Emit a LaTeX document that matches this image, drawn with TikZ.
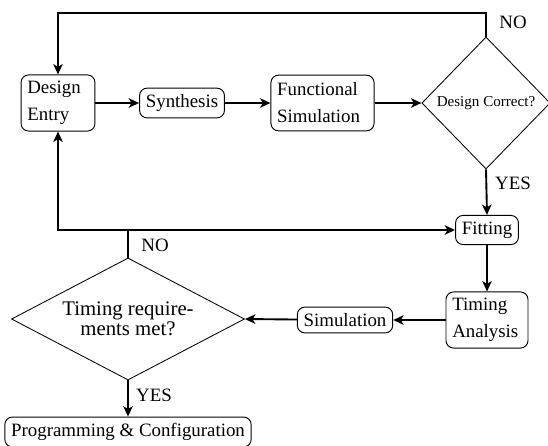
\documentclass[tikz,border=0pt]{standalone}
\usepackage{fontspec}
\setmainfont{Liberation Serif}
\usetikzlibrary{shapes.geometric,arrows.meta}
\begin{document}
\begin{tikzpicture}[x=0.53pt,y=-0.53pt,
  box/.style={draw,rounded corners=4pt,line width=0.5pt,font=\fontsize{10}{14.3}\selectfont},
  wbox/.style={box,align=left,text width=#1,minimum height=29.5pt},
  dia/.style={draw,diamond,inner sep=0pt,line width=0.45pt},
  arr/.style={line width=1pt,-{Stealth[length=5.5pt,width=5pt,inset=1.5pt]}},
  ln/.style={line width=1pt},
  lab/.style={font=\fontsize{10}{12}\selectfont}]
\useasboundingbox (0,0) rectangle (548,445);
\node[wbox=32.5pt] (entry) at (58,103) {Design\\Entry};
\node[box] (synth) at (182,103) {Synthesis};
\node[wbox=48pt] (func) at (322.5,103) {Functional\\Simulation};
\node[dia,minimum width=68pt,minimum height=70pt,font=\fontsize{8}{9}\selectfont] (dc) at (486,103) {Design Correct?};
\node[box] (fit) at (487,230) {Fitting};
\node[wbox=36.8pt] (ta) at (487,320) {Timing\\Analysis};
\node[box] (sim) at (345,320) {Simulation};
\node[dia,shape aspect=1.9,minimum width=123.5pt,minimum height=64.7pt,align=center,font=\fontsize{11}{10.6}\selectfont] (tr) at (128,319) {Timing require-\\ments met?};
\node[box] (prog) at (128,432) {Programming \& Configuration};
\coordinate (topr) at (486,13);
\coordinate (jn) at (128,230);
\draw[arr] (entry) -- (synth);
\draw[arr] (synth) -- (func);
\draw[arr] (func) -- (dc);
\draw[arr] (dc.north) -- (topr) -| (entry.north);
\draw[arr] (dc.south) -- (fit.north);
\draw[arr] (fit) -- (ta);
\draw[arr] (ta) -- (sim);
\draw[arr] (sim) -- (tr.east);
\draw[arr] (tr.south) -- (prog.north);
\draw[arr] (tr.north) |- (fit.west);
\draw[arr] (tr.north) -- (jn) -| (entry.south);
\node[lab] (no1) at (513,22) {NO};
\node[lab] (yes1) at (513,183) {YES};
\node[lab] (no2) at (155,245) {NO};
\node[lab] (yes2) at (154,395) {YES};
\end{tikzpicture}
\end{document}
